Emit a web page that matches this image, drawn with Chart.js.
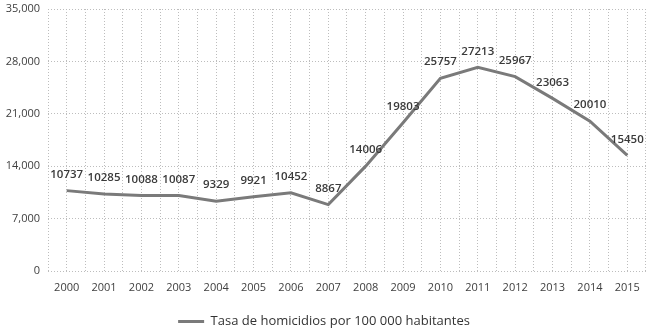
<!DOCTYPE html>
<html>
<head>
<meta charset="utf-8">
<script src="https://cdn.jsdelivr.net/npm/chart.js@4"></script>
<style>
  html, body { margin: 0; padding: 0; background: #fff; }
  #wrap { width: 650px; height: 330px; }
</style>
</head>
<body>
<div id="wrap"><canvas id="homicideChart"></canvas></div>
<script>
// Chart data
const years = ['2000', '2001', '2002', '2003', '2004', '2005', '2006', '2007',
  '2008', '2009', '2010', '2011', '2012', '2013', '2014', '2015'];
const homicideRates = [10737, 10285, 10088, 10087, 9329, 9921, 10452, 8867,
  14006, 19803, 25757, 27213, 25967, 23063, 20010, 15450];
const yTicks = [0, 7000, 14000, 21000, 28000, 35000];
const seriesLabel = 'Tasa de homicidios por 100 000 habitantes';

const gridColor = '#bdbdbd';
const textColor = '#404040';

// Draw the value above each point
const pointLabels = {
  id: 'pointLabels',
  afterDatasetsDraw(chart) {
    const ctx = chart.ctx;
    const meta = chart.getDatasetMeta(0);
    ctx.save();
    ctx.font = '600 11.5px "Open Sans"';
    ctx.fillStyle = '#3a3a3a';
    ctx.textAlign = 'center';
    ctx.textBaseline = 'middle';
    meta.data.forEach((pt, i) => {
      ctx.fillText(String(homicideRates[i]), pt.x, pt.y - 16);
    });
    ctx.restore();
  }
};

new Chart(document.getElementById('homicideChart'), {
  type: 'line',
  data: {
    labels: years,
    datasets: [{
      label: seriesLabel,
      data: homicideRates,
      borderColor: '#7a7a7a',
      backgroundColor: '#7a7a7a',
      borderWidth: 3,
      pointRadius: 0,
      tension: 0
    }]
  },
  options: {
    responsive: true,
    maintainAspectRatio: false,
    animation: false,
    // negative bottom padding pulls the legend closer to the canvas edge
    layout: { padding: { top: 9, right: 2, left: 0, bottom: -8 } },
    plugins: {
      legend: {
        position: 'bottom',
        labels: {
          color: '#333',
          font: { family: '"Open Sans"', size: 13 },
          boxWidth: 26,
          boxHeight: 0,
          padding: 0
        }
      },
      tooltip: { enabled: false }
    },
    scales: {
      x: {
        offset: true,
        grid: { offset: false, color: gridColor, drawTicks: false },
        border: { display: false, dash: [1, 2] },
        ticks: { color: textColor, font: { family: '"Open Sans"', size: 11 }, padding: 10, maxRotation: 0 },
        afterFit(scale) { scale.height = 44; }
      },
      x2: {
        position: 'top',
        offset: true,
        labels: years,
        grid: { offset: true, color: gridColor, drawTicks: false },
        border: { display: false, dash: [1, 2] },
        ticks: { display: false },
        afterFit(scale) { scale.height = 0; }
      },
      y: {
        min: 0,
        max: 35000,
        afterBuildTicks(scale) { scale.ticks = yTicks.map(v => ({ value: v })); },
        grid: { color: gridColor, drawTicks: false },
        border: { display: false, dash: [1, 2] },
        ticks: {
          color: textColor,
          font: { family: '"Open Sans"', size: 11 },
          padding: 8,
          callback: v => v.toLocaleString('en-US')
        },
        afterFit(scale) {
          scale.width = 48;
          scale.paddingTop = 0;
          scale.paddingBottom = 0;
        }
      }
    }
  },
  plugins: [pointLabels]
});
</script>
</body>
</html>
